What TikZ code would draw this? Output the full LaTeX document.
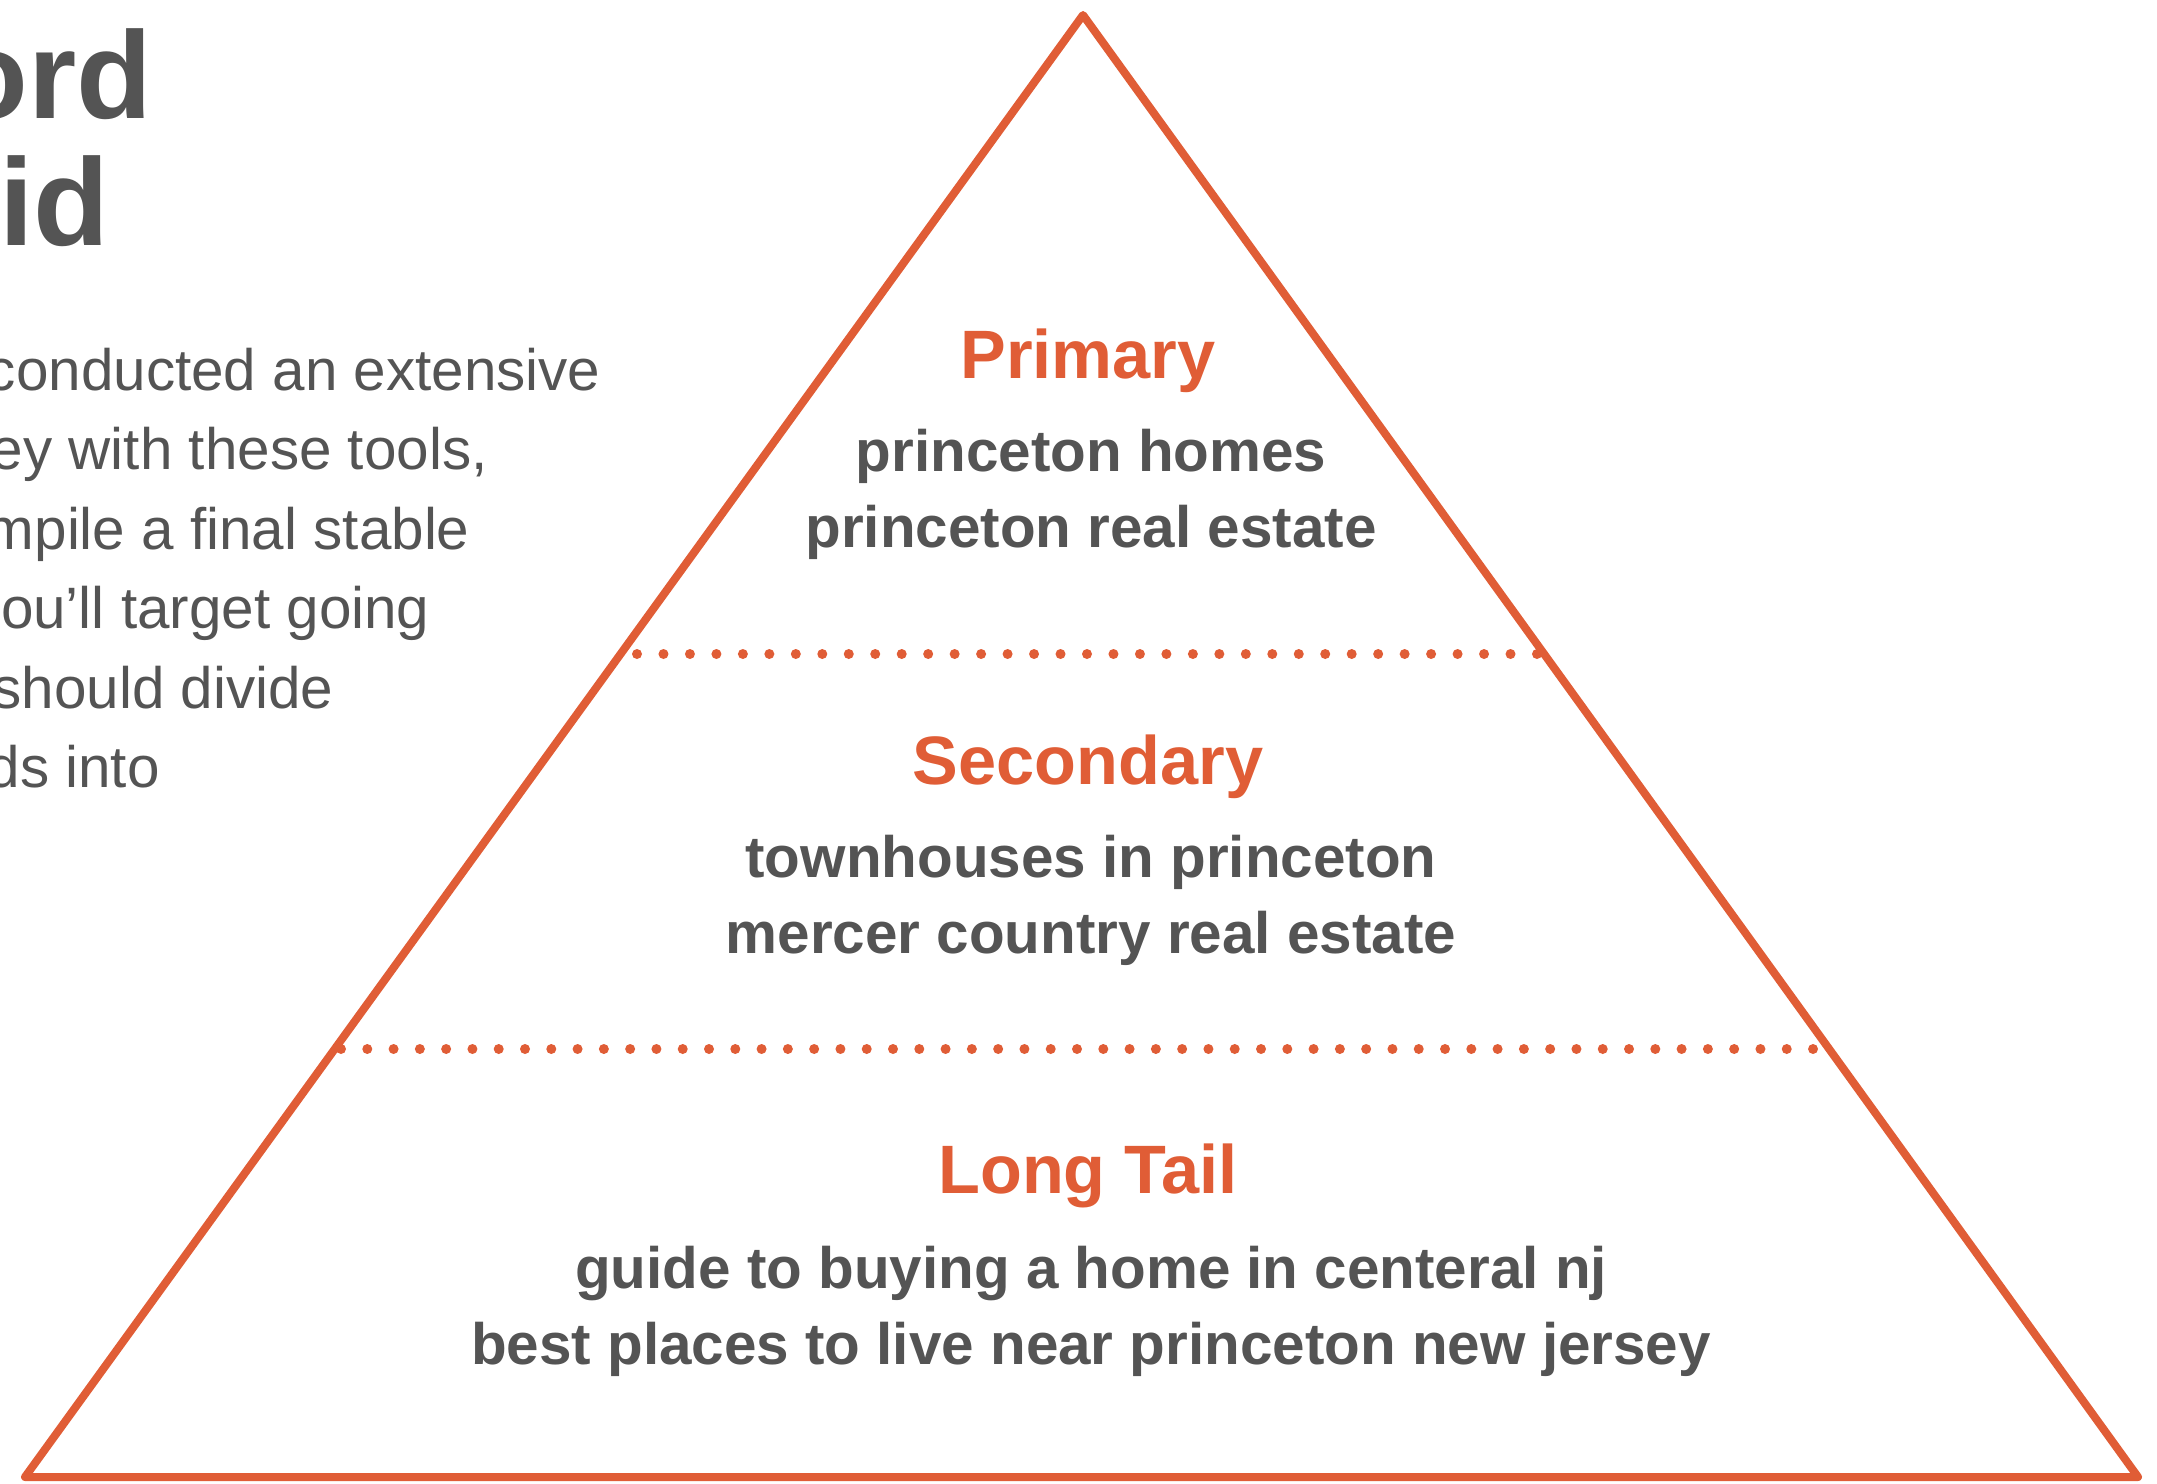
\documentclass[tikz,border=0pt]{standalone}
\usepackage{fontspec}
\setmainfont{Liberation Sans}
\definecolor{pyrorange}{RGB}{224,93,54}
\definecolor{txtgray}{RGB}{84,84,84}
\begin{document}
\begin{tikzpicture}[x=0.5pt,y=-0.5pt,
  edge/.style={draw=pyrorange,line width=4pt,line join=round,line cap=round},
  dotsep/.style={draw=pyrorange,line width=5pt,line cap=round,dash pattern=on 0pt off #1},
  lbl/.style={inner sep=0pt,anchor=base,text=pyrorange,font=\fontsize{34.25}{40}\selectfont\bfseries},
  kw/.style={inner sep=0pt,anchor=base,text=txtgray,font=\fontsize{29.2}{34}\selectfont\bfseries},
  ttl/.style={inner sep=0pt,anchor=base east,text=txtgray,font=\fontsize{62}{70}\selectfont\bfseries},
  para/.style={inner sep=0pt,anchor=base east,text=txtgray,font=\fontsize{29.2}{34}\selectfont}]
\useasboundingbox (0,0) rectangle (2157,1483);
% pyramid outline
\coordinate (apex) at (1083,15);
\coordinate (bl) at (25,1477);
\coordinate (br) at (2138,1477);
\draw[edge] (apex) -- (br) -- (bl) -- cycle;
% dotted separators
\coordinate (s1a) at (637,654);
\coordinate (s1b) at (1539,654);
\coordinate (s2a) at (341,1049);
\coordinate (s2b) at (1816,1049);
\draw[dotsep=13.235pt] (s1a) -- (s1b);
\draw[dotsep=13.143pt] (s2a) -- (s2b);
% tiers
\node[lbl] (prim) at (1088,378) {Primary};
\node[kw] (prim1) at (1091,471) {princeton homes};
\node[kw] (prim2) at (1091,547) {princeton real estate};
\node[lbl] (sec) at (1088,784) {Secondary};
\node[kw] (sec1) at (1091,877) {townhouses in princeton};
\node[kw] (sec2) at (1091,953) {mercer country real estate};
\node[lbl] (lt) at (1088,1193) {Long Tail};
\node[kw] (lt1) at (1091,1288) {guide to buying a home in centeral nj};
\node[kw] (lt2) at (1091,1364) {best places to live near princeton new jersey};
% cut-off title and paragraph
\node[ttl] (t1) at (153,118) {ord};
\node[ttl] (t2) at (110,245) {id};
\node[para] (p1) at (601,390) {conducted an extensive};
\node[para] (p2) at (488,469) {ey with these tools,};
\node[para] (p3) at (470,549) {mpile a final stable};
\node[para] (p4) at (430,628) {ou’ll target going};
\node[para] (p5) at (334,708) {should divide};
\node[para] (p6) at (160,787) {ds into};
\end{tikzpicture}
\end{document}
